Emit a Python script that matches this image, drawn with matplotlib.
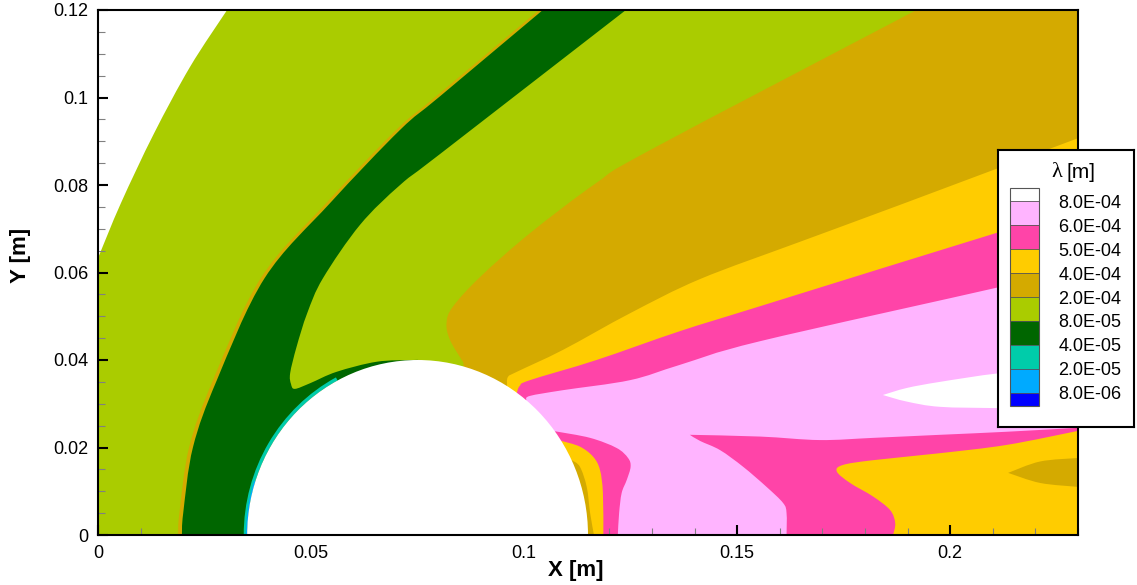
import matplotlib
matplotlib.use("Agg")
import matplotlib.pyplot as plt
import numpy as np
from matplotlib.colors import ListedColormap, BoundaryNorm
from matplotlib.cm import ScalarMappable
from matplotlib.patches import Circle, Wedge, PathPatch
from matplotlib.path import Path
from matplotlib.ticker import FuncFormatter, FixedLocator, MultipleLocator

plt.rcParams['font.family'] = ['Liberation Sans', 'DejaVu Sans']

# contour levels of the mean free path and their colours
levels = [8e-6, 2e-5, 4e-5, 8e-5, 2e-4, 4e-4, 5e-4, 6e-4, 8e-4]
band_colors = ['#00AAFF', '#00CCAA', '#006600', '#AACC00',
               '#D4AA00', '#FFCC00', '#FF44A8', '#FFB4FF']
under_color = '#0000FF'
over_color = '#FFFFFF'

xticks = [0, 0.05, 0.1, 0.15, 0.2]
yticks = [0, 0.02, 0.04, 0.06, 0.08, 0.1, 0.12]

# cylinder
cyl_xc, cyl_yc, cyl_r = 0.075, 0.0, 0.04

# free stream ahead of the bow shock (lambda > 8e-4)
free_x = [0.0303, 0.0216, 0.0131, 0.0054, 0.0]
free_y = [0.12, 0.107, 0.0917, 0.0759, 0.0633]
free_val = 1e-3

# top right corner outside the domain
corner_x = [0.2011, 0.23, 0.23]
corner_y = [0.12, 0.1051, 0.12]

# dark green shock layer band (left edge bottom->top, right edge top->cylinder top)
band_left_x = [0.0197, 0.0200, 0.0223, 0.0279, 0.0391, 0.0545, 0.0709, 0.0803, 0.1044]
band_left_y = [0.0, 0.0050, 0.0201, 0.0354, 0.0587, 0.0759, 0.0926, 0.1003, 0.12]
band_right_x = [0.1239, 0.0803, 0.0709, 0.0615, 0.0528, 0.0491, 0.0466, 0.0451,
                0.0453, 0.0462, 0.0498, 0.0560, 0.0654, 0.0739, 0.075]
band_right_y = [0.12, 0.0871, 0.08, 0.0709, 0.0587, 0.0507, 0.0430, 0.0370,
                0.0345, 0.0334, 0.0347, 0.0373, 0.0396, 0.04, 0.04]
band_val = 6e-5
shock_width = 0.0009

# wake boundaries (each painted over the previous one)
gold_x = [0.1921, 0.1296, 0.1170, 0.1014, 0.0897, 0.0833, 0.0818, 0.0826, 0.0857]
gold_y = [0.12, 0.088, 0.0805, 0.0690, 0.0590, 0.0522, 0.0485, 0.0446, 0.0395]
gold_val = 3e-4

yellow_x = [0.0960, 0.0962, 0.0983, 0.1091, 0.1249, 0.1413, 0.1647, 0.1889, 0.23]
yellow_y = [0.0341, 0.0361, 0.0373, 0.0423, 0.0507, 0.0585, 0.0670, 0.0757, 0.0907]
yellow_val = 4.5e-4

pink_x = [0.0983, 0.0990, 0.1014, 0.1170, 0.1366, 0.1554, 0.2117, 0.23]
pink_y = [0.0325, 0.0341, 0.0354, 0.04, 0.0466, 0.0523, 0.0693, 0.0745]
pink_val = 5.5e-4

light_x = [0.1005, 0.1014, 0.1091, 0.1249, 0.1366, 0.1554, 0.2117, 0.23]
light_y = [0.0309, 0.0318, 0.0331, 0.0354, 0.0389, 0.0443, 0.0567, 0.0610]
light_val = 7e-4

blob_top_x = [0.1842, 0.1898, 0.1976, 0.2117, 0.23]
blob_top_y = [0.0320, 0.0336, 0.0350, 0.0370, 0.0386]
blob_bot_x = [0.23, 0.2117, 0.1976, 0.1898, 0.1842]
blob_bot_y = [0.0288, 0.0290, 0.0293, 0.0305, 0.0320]
blob_val = 9e-4

near_pink_x = [0.1073, 0.1155, 0.1217, 0.1244, 0.1250, 0.1241, 0.1229, 0.1223, 0.1220]
near_pink_y = [0.0237, 0.0222, 0.0199, 0.0176, 0.0156, 0.0126, 0.0096, 0.0050, 0.0]
near_yellow_x = [0.1088, 0.1131, 0.1162, 0.1178, 0.1185, 0.1186]
near_yellow_y = [0.0215, 0.0202, 0.0179, 0.0149, 0.0096, 0.0]
near_gold_x = [0.1112, 0.1131, 0.1147, 0.1155, 0.1164]
near_gold_y = [0.0171, 0.0156, 0.0110, 0.0050, 0.0]

low_pink_top_x = [0.1389, 0.1554, 0.1694, 0.1819, 0.1976, 0.2133, 0.23]
low_pink_top_y = [0.0229, 0.0225, 0.0217, 0.0222, 0.0229, 0.0236, 0.0245]
low_pink_side_x = [0.1616, 0.1616, 0.1608, 0.1569, 0.1514, 0.1460, 0.1413, 0.1389]
low_pink_side_y = [0.0, 0.0050, 0.0073, 0.0110, 0.0156, 0.0194, 0.0215, 0.0229]
low_yellow_x = [0.23, 0.2133, 0.1976, 0.1819, 0.1748, 0.1734, 0.1765, 0.1819,
                0.1859, 0.1871, 0.1866]
low_yellow_y = [0.0238, 0.0206, 0.0187, 0.0171, 0.0160, 0.0145, 0.0119, 0.0088,
                0.0057, 0.0027, 0.0]
low_gold_top_x = [0.2136, 0.2211, 0.23]
low_gold_top_y = [0.0142, 0.0168, 0.0176]
low_gold_bot_x = [0.23, 0.2211, 0.2136]
low_gold_bot_y = [0.0110, 0.0119, 0.0142]

# surface layers on the cylinder front (angles in degrees, thickness)
teal_theta = (118, 180)
teal_width = 0.0008
blue_theta = (162, 180)
blue_width = 0.0003

cmap = ListedColormap(band_colors)
cmap.set_under(under_color)
cmap.set_over(over_color)
norm = BoundaryNorm(levels, cmap.N)


def col(v):
    return cmap(norm(v))


def region(pieces):
    # pieces: list of (xs, ys, smooth); smooth pieces become Catmull-Rom Beziers
    verts, codes = [], []
    for xs, ys, smooth in pieces:
        pts = np.column_stack([xs, ys])
        verts.append(pts[0])
        codes.append(Path.MOVETO if not codes else Path.LINETO)
        if smooth and len(pts) > 2:
            n = len(pts)
            for i in range(n - 1):
                p0 = pts[max(i - 1, 0)]
                p1, p2 = pts[i], pts[i + 1]
                p3 = pts[min(i + 2, n - 1)]
                verts += [p1 + (p2 - p0) / 6, p2 - (p3 - p1) / 6, p2]
                codes += [Path.CURVE4] * 3
        else:
            for p in pts[1:]:
                verts.append(p)
                codes.append(Path.LINETO)
    verts.append(verts[0])
    codes.append(Path.CLOSEPOLY)
    return Path(verts, codes)


def paint(ax, pieces, v, z=1):
    ax.add_patch(PathPatch(region(pieces), facecolor=col(v), lw=0, zorder=z))


fig = plt.figure(figsize=(11.37, 5.85), dpi=100)
ax = fig.add_axes([98 / 1137, 50 / 585, 980 / 1137, 525 / 585])
ax.set_xlim(0, 0.23)
ax.set_ylim(0, 0.12)
ax.set_facecolor(col(1e-4))

paint(ax, [(free_x, free_y, True), ([0.0], [0.12], False)], free_val)
paint(ax, [(corner_x, corner_y, False)], free_val)

paint(ax, [(gold_x, gold_y, True), ([0.09, 0.23, 0.23], [0.0, 0.0, 0.12], False)], gold_val)
paint(ax, [(yellow_x, yellow_y, True), ([0.23, 0.095], [0.0, 0.0], False)], yellow_val)
paint(ax, [(pink_x, pink_y, True), ([0.23, 0.095], [0.0, 0.0], False)], pink_val)
paint(ax, [(light_x, light_y, True), ([0.23, 0.095], [0.0, 0.0], False)], light_val)
paint(ax, [(blob_top_x, blob_top_y, True), (blob_bot_x, blob_bot_y, True)], blob_val)
paint(ax, [(near_pink_x, near_pink_y, True), ([0.10], [0.0], False)], pink_val)
paint(ax, [(near_yellow_x, near_yellow_y, True), ([0.10], [0.0], False)], yellow_val)
paint(ax, [(near_gold_x, near_gold_y, True), ([0.10], [0.0], False)], gold_val)
paint(ax, [(low_pink_top_x, low_pink_top_y, True), ([0.23], [0.0], False),
           (low_pink_side_x, low_pink_side_y, True)], pink_val)
paint(ax, [(low_yellow_x, low_yellow_y, True), ([0.23], [0.0], False)], yellow_val)
paint(ax, [(low_gold_top_x, low_gold_top_y, True), (low_gold_bot_x, low_gold_bot_y, True)], gold_val)

# shock layer band and the thin shock line on its outer edge
bl = np.array(band_left_x)
paint(ax, [(bl - shock_width, band_left_y, True), (bl[::-1], band_left_y[::-1], True)], gold_val, 2)
paint(ax, [(band_left_x, band_left_y, True), (band_right_x, band_right_y, True),
           ([0.075], [0.0], False)], band_val, 2)

ax.add_patch(Wedge((cyl_xc, cyl_yc), cyl_r + teal_width, *teal_theta,
                   width=teal_width, color=col(3e-5), lw=0, zorder=2))
ax.add_patch(Wedge((cyl_xc, cyl_yc), cyl_r + blue_width, *blue_theta,
                   width=blue_width, color=col(1.5e-5), lw=0, zorder=2))
ax.add_patch(Circle((cyl_xc, cyl_yc), cyl_r, color='white', lw=0, zorder=3))

fmt = FuncFormatter(lambda v, p: f'{v:g}')
ax.xaxis.set_major_locator(FixedLocator(xticks))
ax.yaxis.set_major_locator(FixedLocator(yticks))
ax.xaxis.set_minor_locator(MultipleLocator(0.01))
ax.yaxis.set_minor_locator(MultipleLocator(0.005))
ax.xaxis.set_major_formatter(fmt)
ax.yaxis.set_major_formatter(fmt)
ax.tick_params(which='major', direction='in', length=7, width=1.5, labelsize=13, pad=7)
ax.tick_params(which='minor', direction='in', length=5, width=0.8, color='gray')
for s in ax.spines.values():
    s.set_linewidth(1.5)
    s.set_zorder(10)

ax.set_xlabel('X [m]', fontsize=16, fontweight='bold')
ax.set_ylabel('Y [m]', fontsize=16, fontweight='bold')
ax.xaxis.set_label_coords(0.487, -0.048)
ax.yaxis.set_label_coords(-0.068, 0.533)

# legend box with the colour scale
box = fig.add_axes([998 / 1137, 158 / 585, 136 / 1137, 277 / 585], zorder=5)
box.set_xticks([])
box.set_yticks([])
for s in box.spines.values():
    s.set_linewidth(1.5)
box.text(0.47, 0.92, 'λ', family='Liberation Serif', fontsize=16,
         ha='right', va='center', transform=box.transAxes)
box.text(0.50, 0.92, '[m]', fontsize=15, ha='left', va='center', transform=box.transAxes)

cax = fig.add_axes([1010 / 1137, 179 / 585, 29 / 1137, 218 / 585], zorder=6)
cb = fig.colorbar(ScalarMappable(norm=norm, cmap=cmap), cax=cax, extend='both',
                  extendrect=True, extendfrac=0.068, drawedges=True, ticks=levels)
cb.ax.yaxis.set_major_formatter(FuncFormatter(lambda v, p: f'{v:.1E}'))
cb.ax.tick_params(length=0, pad=14, labelsize=13)
cb.ax.minorticks_off()
cb.outline.set_edgecolor('#555555')
cb.outline.set_linewidth(0.8)
cb.dividers.set_color('#555555')
cb.dividers.set_linewidth(0.6)

fig.savefig('out.png', dpi=100)
